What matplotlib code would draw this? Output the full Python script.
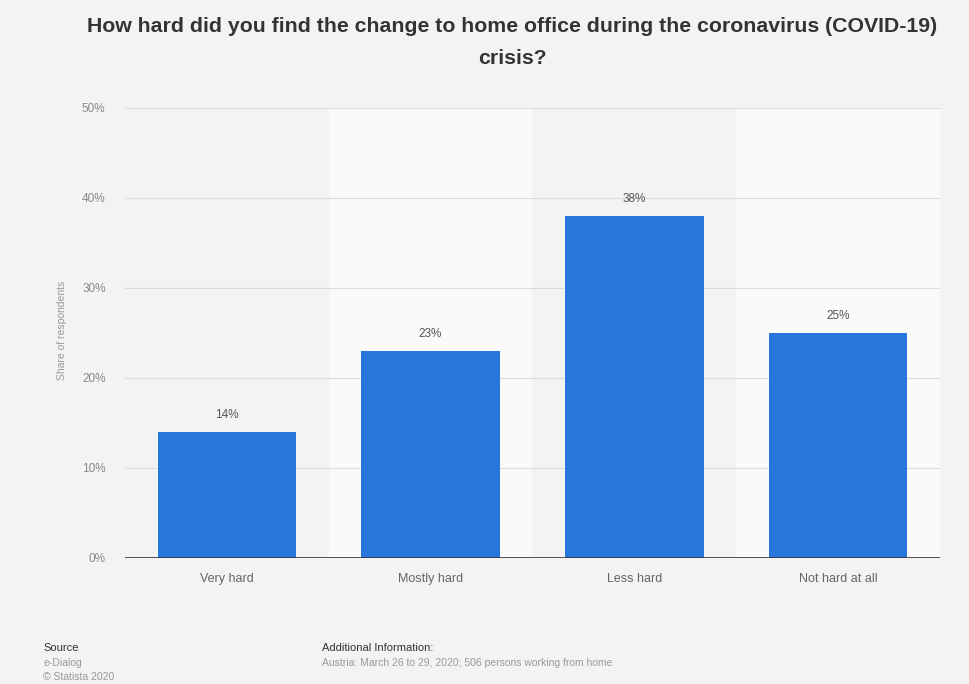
import matplotlib
matplotlib.use("Agg")
import matplotlib.pyplot as plt
from matplotlib.patches import Rectangle

categories = ["Very hard", "Mostly hard", "Less hard", "Not hard at all"]
shares = [14, 23, 38, 25]
y_ticks = [0, 10, 20, 30, 40, 50]
y_tick_labels = ["0%", "10%", "20%", "30%", "40%", "50%"]

BG = "#f3f3f3"
BAND = "#fafafa"
BAR = "#2776db"

plt.rcParams["font.family"] = ["Liberation Sans", "DejaVu Sans"]

fig = plt.figure(figsize=(9.70, 6.84), dpi=100, facecolor=BG)
ax = fig.add_axes([125 / 970, 1 - 558 / 684, 815 / 970, 450 / 684])
ax.set_facecolor(BG)

x = list(range(len(categories)))

# alternating column bands
for i in x:
    if i % 2 == 1:
        ax.add_patch(Rectangle((i - 0.5, 0), 1.0, 50, facecolor=BAND,
                               edgecolor="none", zorder=0))

for t in y_ticks[1:]:
    ax.axhline(t, color="#dcdcdc", lw=0.8, zorder=1)
ax.axhline(0, color="#333333", lw=1.2, zorder=3)

bars = ax.bar(x, shares, width=0.68, color=BAR, zorder=2)
for xi, v in zip(x, shares):
    ax.text(xi, v + 1.2, f"{v}%", ha="center", va="bottom",
            fontsize=8.5, color="#555555", zorder=4)

ax.set_xlim(-0.5, 3.5)
ax.set_ylim(0, 50)
ax.set_xticks(x)
ax.set_xticklabels(categories, fontsize=9, color="#666666")
ax.set_yticks(y_ticks)
ax.set_yticklabels(y_tick_labels, fontsize=8.5, color="#888888")
ax.tick_params(axis="both", length=0)
ax.tick_params(axis="y", pad=14)
ax.tick_params(axis="x", pad=11)
for s in ax.spines.values():
    s.set_visible(False)

fig.text(62 / 970, 1 - 330 / 684, "Share of respondents", rotation=90,
         ha="center", va="center", fontsize=7.5, color="#999999")

fig.text(512 / 970, 1 - 26 / 684,
         "How hard did you find the change to home office during the coronavirus (COVID-19)",
         ha="center", va="center", fontsize=15.3, fontweight="bold", color="#333333")
fig.text(512 / 970, 1 - 58 / 684, "crisis?",
         ha="center", va="center", fontsize=15.3, fontweight="bold", color="#333333")

fig.text(43 / 970, 1 - 648 / 684, "Source", ha="left", va="center",
         fontsize=8, color="#333333")
fig.text(43 / 970, 1 - 663 / 684, "e-Dialog", ha="left", va="center",
         fontsize=7.5, color="#999999")
fig.text(43 / 970, 1 - 677 / 684, "© Statista 2020", ha="left", va="center",
         fontsize=7.5, color="#999999")
fig.text(322 / 970, 1 - 648 / 684, "Additional Information:", ha="left",
         va="center", fontsize=8, color="#333333")
fig.text(322 / 970, 1 - 663 / 684,
         "Austria: March 26 to 29, 2020; 506 persons working from home",
         ha="left", va="center", fontsize=7.5, color="#999999")

fig.savefig("out.png", dpi=100, facecolor=BG)
